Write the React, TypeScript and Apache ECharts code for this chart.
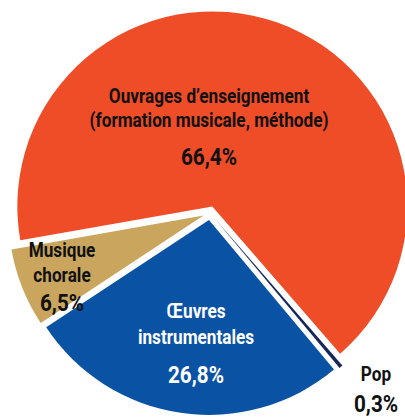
import React, { useEffect, useRef } from "react";
import * as echarts from "echarts";

const categories = [
  "Ouvrages d’enseignement\n(formation musicale, méthode)",
  "Pop",
  "Œuvres\ninstrumentales",
  "Musique\nchorale",
];
const values = [66.4, 0.3, 26.8, 6.5];
const colors = ["#EF4C28", "#17265C", "#0A52A3", "#C9A55E"];
const textColors = ["#111111", "#111111", "#FFFFFF", "#111111"];
// label layout only: anchor x, y of name lines, y of percent line
const labelX = [209, 376, 196, 62];
const nameLineY = [[97, 121], [375], [312, 338], [251, 276]];
const pctY = [157, 404, 375, 303];

const FONT = "Roboto, 'Noto Sans', sans-serif";
const NAME_SQUEEZE = 0.86;
const PCT_SQUEEZE = 0.9;

function pct(v: number) {
  return v.toFixed(1).replace(".", ",") + "%";
}

export default function App() {
  const ref = useRef<HTMLDivElement>(null);
  useEffect(() => {
    document.body.style.margin = "0";
    const chart = echarts.init(ref.current!, null, { renderer: "svg" });
    const data = categories.map((name, i) => ({
      name,
      value: values[i],
      selected: true,
      itemStyle: { color: colors[i] },
    }));
    const texts: any[] = [];
    categories.forEach((name, i) => {
      name.split("\n").forEach((line, j) => {
        texts.push({
          type: "text",
          x: labelX[i],
          y: nameLineY[i][j],
          scaleX: NAME_SQUEEZE,
          z: 10,
          style: {
            text: line,
            fontFamily: FONT,
            fontWeight: "bold",
            fontSize: 20,
            fill: textColors[i],
            textAlign: "center",
            textVerticalAlign: "middle",
          },
        });
      });
      texts.push({
        type: "text",
        x: labelX[i],
        y: pctY[i],
        scaleX: PCT_SQUEEZE,
        z: 10,
        style: {
          text: pct(values[i]),
          fontFamily: FONT,
          fontWeight: "bold",
          fontSize: 23,
          fill: textColors[i],
          textAlign: "center",
          textVerticalAlign: "middle",
        },
      });
    });
    chart.setOption({
      animation: false,
      backgroundColor: "#ffffff",
      graphic: texts,
      series: [
        {
          type: "pie",
          center: [210, 213],
          radius: 195,
          startAngle: 190,
          clockwise: true,
          selectedMode: "multiple",
          selectedOffset: 7,
          avoidLabelOverlap: false,
          emphasis: { disabled: true },
          label: { show: false },
          labelLine: { show: false },
          itemStyle: { borderWidth: 0 },
          data,
        },
      ],
    });
    return () => chart.dispose();
  }, []);
  return <div ref={ref} style={{ width: 405, height: 417 }} />;
}
